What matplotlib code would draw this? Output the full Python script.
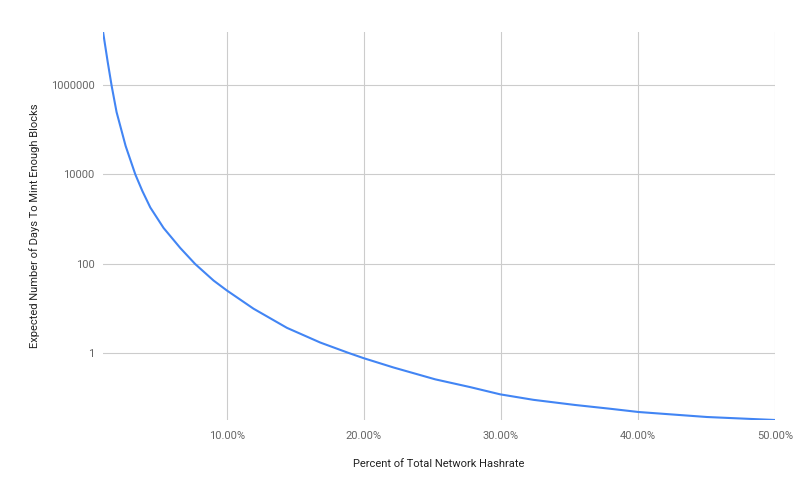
import matplotlib
matplotlib.use("Agg")
import matplotlib.pyplot as plt
from matplotlib.ticker import FixedLocator, FuncFormatter

plt.rcParams['font.family'] = ['Roboto', 'DejaVu Sans']

# percent of network hashrate vs expected days
hashrate_pct = [0.97, 1.31, 1.60, 1.96, 2.62, 3.33, 3.84, 4.42, 5.39, 6.61, 7.70,
                9.04, 10.0, 11.95, 14.39, 16.82, 18.86, 19.98, 22.17, 25.21,
                27.76, 29.95, 32.38, 35.41, 37.97, 40.04, 45.03, 50.0]
expected_days = [1.61e7, 3.39e6, 9.77e5, 2.51e5, 4.37e4, 1.0e4, 4270, 1820, 631,
                 224, 97.7, 41.7, 25.1, 9.77, 3.63, 1.70, 1.0, 0.759, 0.468,
                 0.254, 0.170, 0.117, 0.0881, 0.0676, 0.0556, 0.047, 0.0363, 0.0311]

y_ticks = [1, 100, 10000, 1000000]
x_ticks = [10, 20, 30, 40, 50]

fig = plt.figure(figsize=(8, 4.94), dpi=100)
ax = fig.add_axes([0.12875, 0.1498, 0.84, 0.7864])

ax.plot(hashrate_pct, expected_days, color='#4285F4', lw=1.5,
        solid_joinstyle='round')
ax.set_yscale('log')
ax.set_xlim(hashrate_pct[0], hashrate_pct[-1])
ax.set_ylim(min(expected_days), max(expected_days))

ax.yaxis.set_major_locator(FixedLocator(y_ticks))
ax.yaxis.set_minor_locator(FixedLocator([]))
ax.yaxis.set_major_formatter(FuncFormatter(lambda v, p: "%d" % round(v)))
ax.xaxis.set_major_locator(FixedLocator(x_ticks))
ax.xaxis.set_major_formatter(FuncFormatter(lambda v, p: "%.2f%%" % v))

ax.grid(True, color='#cccccc', lw=0.8)
ax.set_axisbelow(True)
for s in ax.spines.values():
    s.set_visible(False)
ax.tick_params(length=0, labelsize=8, labelcolor='#666666')
ax.tick_params(axis='y', pad=6)
ax.tick_params(axis='x', pad=8)

ax.set_xlabel("Percent of Total Network Hashrate", fontsize=8, color='#222222', labelpad=13)
ax.set_ylabel("Expected Number of Days To Mint Enough Blocks", fontsize=8, color='#222222', labelpad=8)

fig.savefig("out.png", dpi=100)
